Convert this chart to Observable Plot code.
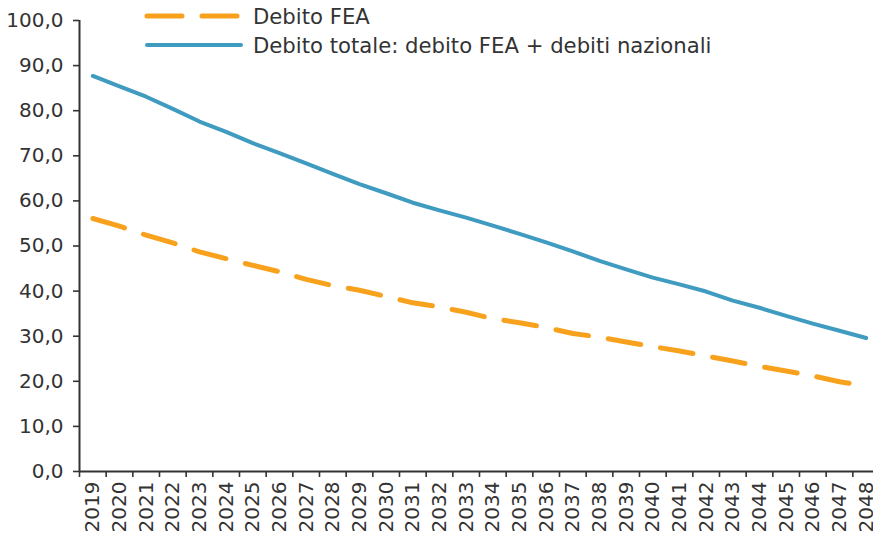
<!DOCTYPE html>
<html><head><meta charset="utf-8">
<script src="https://cdn.jsdelivr.net/npm/d3@7"></script>
<script src="https://cdn.jsdelivr.net/npm/@observablehq/plot@0.6"></script>
<style>
html,body{margin:0;padding:0;overflow:hidden;background:#fff;}
#wrap{position:relative;width:873px;height:538px;overflow:hidden;font-family:"DejaVu Sans",sans-serif;}
#chart{width:880px;}
#chart svg{max-width:none !important;}
#legend{position:absolute;left:0;top:0;}
.row{position:absolute;left:144px;height:20px;display:flex;align-items:center;white-space:nowrap;font-size:21.2px;color:#333;}
.row svg{margin-right:9px;}
</style></head><body><div id="wrap"><div id="chart"></div><div id="legend"></div></div>
<script>
const years = [2019,2020,2021,2022,2023,2024,2025,2026,2027,2028,2029,2030,2031,2032,2033,2034,2035,2036,2037,2038,2039,2040,2041,2042,2043,2044,2045,2046,2047,2048];
const debitoFEA = [56.1,54.4,52.4,50.7,48.7,47.2,45.7,44.3,42.6,41.2,40.2,38.8,37.4,36.5,35.3,33.9,33.0,31.9,30.6,29.8,28.7,27.7,26.7,25.6,24.5,23.3,22.3,21.2,19.9,19.0];
const debitoTotale = [87.7,85.4,83.1,80.4,77.6,75.3,72.8,70.6,68.3,66.0,63.7,61.7,59.6,57.9,56.3,54.5,52.7,50.8,48.8,46.7,44.8,43.0,41.5,39.9,37.9,36.3,34.5,32.8,31.2,29.6];
const seriesNames = ["Debito FEA", "Debito totale: debito FEA + debiti nazionali"];
const yTicks = [0,10,20,30,40,50,60,70,80,90,100];
const colors = ["#f8a11d", "#3f9bc0"];
const ink = "#333333";
const font = "DejaVu Sans, sans-serif";

const xDomain = [years[0] - 0.5, years[years.length - 1] + 0.5];
const bandEdges = years.map(y => y - 0.5).concat([years[years.length - 1] + 0.5]);
const fea = years.map((y, i) => ({year: y, value: debitoFEA[i]}));
const tot = years.map((y, i) => ({year: y, value: debitoTotale[i]}));
const fmt = d => d.toFixed(1).replace(".", ",");

const chart = Plot.plot({
  width: 880, height: 538,
  marginLeft: 79, marginRight: 1, marginTop: 20, marginBottom: 67,
  style: {fontFamily: font, fontSize: "20px", color: ink, background: "white"},
  x: {domain: xDomain},
  y: {domain: [0, 100]},
  marks: [
    Plot.axisY({ticks: yTicks, tickSize: 6, tickPadding: 10, tickFormat: fmt, label: null, stroke: ink, strokeWidth: 1.6, fill: ink, strokeOpacity: 1}),
    Plot.axisX({ticks: bandEdges, tickSize: 6, tickFormat: () => "", label: null, stroke: ink, strokeWidth: 1.6, strokeOpacity: 1}),
    Plot.axisX({ticks: years, tickSize: 0, tickPadding: 10, tickRotate: -90, tickFormat: d => String(d), label: null, fill: ink}),
    Plot.ruleX([xDomain[0]], {stroke: ink, strokeWidth: 2}),
    Plot.ruleY([0], {stroke: ink, strokeWidth: 2}),
    Plot.line(fea, {x: "year", y: "value", stroke: colors[0], strokeWidth: 5, strokeDasharray: "33,20", strokeLinecap: "round"}),
    Plot.line(tot, {x: "year", y: "value", stroke: colors[1], strokeWidth: 4})
  ]
});
document.getElementById("chart").appendChild(chart);

const legend = document.getElementById("legend");
const rowsTop = [6, 35];
seriesNames.forEach((name, i) => {
  const row = document.createElement("div");
  row.className = "row";
  row.style.top = rowsTop[i] + "px";
  const dash = i === 0 ? 'stroke-dasharray="35,20" stroke-linecap="round" stroke-width="5"' : 'stroke-linecap="round" stroke-width="4"';
  row.innerHTML = `<svg width="100" height="10"><line x1="3" x2="97" y1="5" y2="5" stroke="${colors[i]}" ${dash}/></svg><span>${name}</span>`;
  legend.appendChild(row);
});
</script>
</body></html>
